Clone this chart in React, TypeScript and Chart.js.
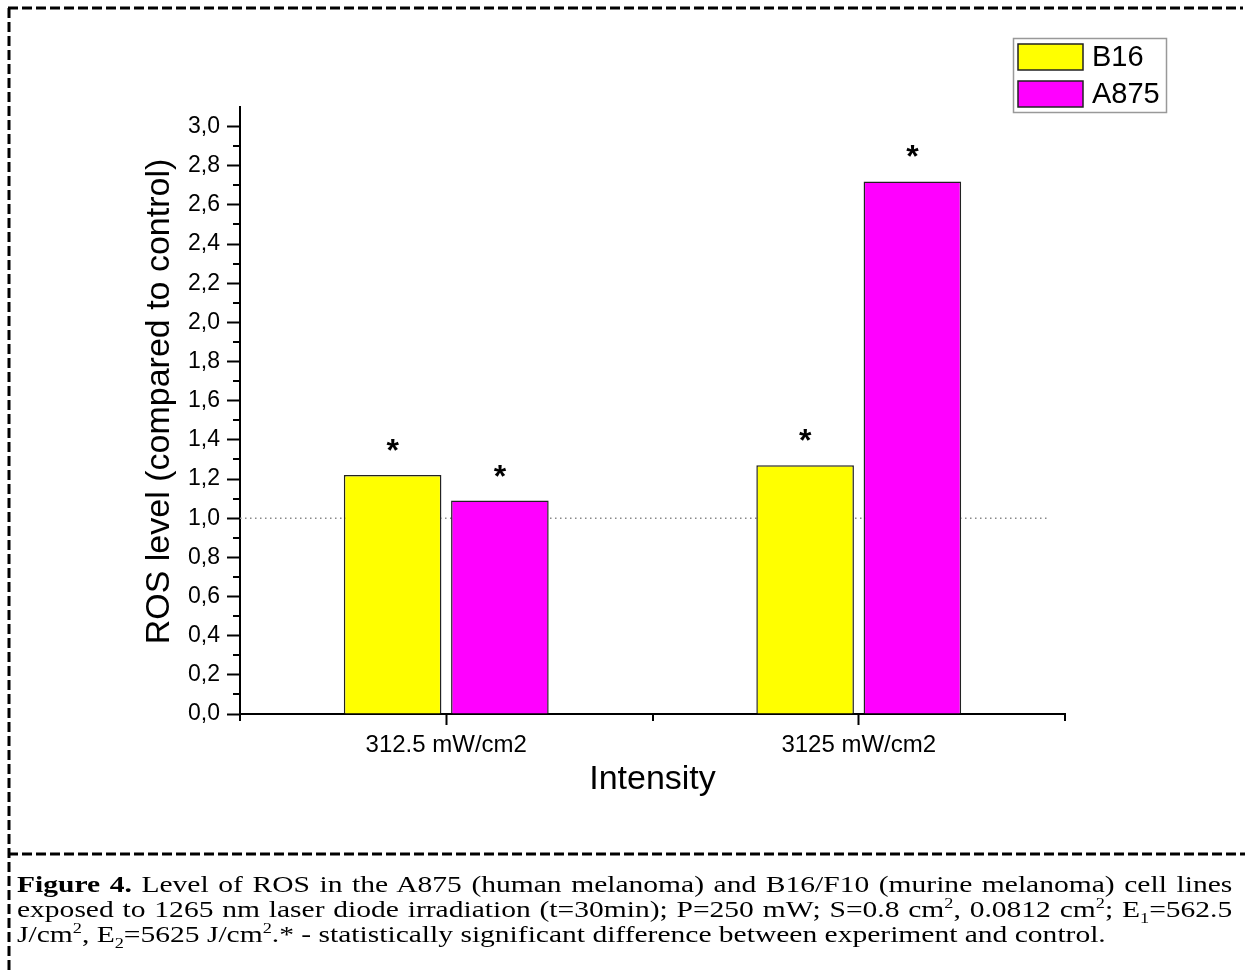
import React, { useEffect, useRef } from 'react';
import { Chart, registerables } from 'chart.js';

Chart.register(...registerables);

// ---- data ----
const categories = ['312.5 mW/cm2', '3125 mW/cm2'];
const seriesNames = ['B16', 'A875'];
const b16Values = [1.22, 1.27];
const a875Values = [1.09, 2.72];
const b16Significant = [true, true];
const a875Significant = [true, true];
const seriesColors = ['#FFFF00', '#FF00FF'];
const yTickValues = [0, 0.2, 0.4, 0.6, 0.8, 1.0, 1.2, 1.4, 1.6, 1.8, 2.0, 2.2, 2.4, 2.6, 2.8, 3.0];
const yMinorTickValues = [0.1, 0.3, 0.5, 0.7, 0.9, 1.1, 1.3, 1.5, 1.7, 1.9, 2.1, 2.3, 2.5, 2.7, 2.9];
const xMinorTickValues = [-0.5, 0.5, 1.5];
const controlLevel = 1.0;
const yMin = 0;
const yMax = 3.1;
const yAxisTitle = 'ROS level (compared to control)';
const xAxisTitle = 'Intensity';

const SANS = '"Liberation Sans", Arial, sans-serif';

const decorPlugin = {
  id: 'decor',
  beforeDraw(chart: any) {
    const ctx = chart.ctx;
    ctx.save();
    ctx.fillStyle = '#fff';
    ctx.fillRect(0, 0, chart.width, chart.height);
    // dashed frame
    ctx.strokeStyle = '#000';
    ctx.lineWidth = 3;
    ctx.setLineDash([10, 4]);
    ctx.beginPath();
    ctx.moveTo(8, 8);
    ctx.lineTo(1243, 8);
    ctx.moveTo(9, 8);
    ctx.lineTo(9, chart.height);
    ctx.moveTo(8, 854);
    ctx.lineTo(1245, 854);
    ctx.stroke();
    ctx.restore();
  },
  beforeDatasetsDraw(chart: any) {
    const ctx = chart.ctx;
    const { left, right } = chart.chartArea;
    const y = chart.scales.y;
    const yy = y.getPixelForValue(controlLevel);
    ctx.save();
    ctx.strokeStyle = '#888';
    ctx.lineWidth = 1.5;
    ctx.setLineDash([1.5, 3.5]);
    ctx.beginPath();
    ctx.moveTo(left, yy);
    ctx.lineTo(right - (right - left) * 0.022, yy);
    ctx.stroke();
    ctx.restore();
  },
  afterDraw(chart: any) {
    const ctx = chart.ctx;
    const { left, right, top, bottom } = chart.chartArea;
    const x = chart.scales.x;
    const y = chart.scales.y;
    ctx.save();
    ctx.strokeStyle = '#000';
    ctx.lineWidth = 2;
    // minor y ticks
    ctx.beginPath();
    yMinorTickValues.forEach((v) => {
      const py = Math.round(y.getPixelForValue(v));
      ctx.moveTo(left - 7, py);
      ctx.lineTo(left, py);
    });
    // minor x ticks
    xMinorTickValues.forEach((v) => {
      const px = Math.round(x.getPixelForValue(v));
      ctx.moveTo(px, bottom);
      ctx.lineTo(px, bottom + 7);
    });
    ctx.stroke();

    // asterisks
    ctx.fillStyle = '#000';
    ctx.font = `bold 32px ${SANS}`;
    ctx.textAlign = 'center';
    ctx.textBaseline = 'alphabetic';
    const flags = [b16Significant, a875Significant];
    chart.data.datasets.forEach((ds: any, di: number) => {
      const meta = chart.getDatasetMeta(di);
      meta.data.forEach((bar: any, i: number) => {
        if (flags[di][i]) ctx.fillText('*', bar.x, bar.y - 14);
      });
    });

    // axis titles
    ctx.font = `34px ${SANS}`;
    ctx.textBaseline = 'middle';
    ctx.textAlign = 'center';
    ctx.save();
    ctx.translate(160, (top + bottom) / 2 - 9);
    ctx.rotate(-Math.PI / 2);
    ctx.fillText(yAxisTitle, 0, 0);
    ctx.restore();
    ctx.font = `34px ${SANS}`;
    ctx.fillText(xAxisTitle, (left + right) / 2, 780);

    // legend
    ctx.strokeStyle = '#999';
    ctx.lineWidth = 1.5;
    ctx.strokeRect(1013.5, 38.5, 153, 74);
    ctx.font = `29px ${SANS}`;
    ctx.textAlign = 'left';
    chart.data.datasets.forEach((ds: any, di: number) => {
      const sy = 44 + di * 37;
      ctx.fillStyle = ds.backgroundColor;
      ctx.fillRect(1018, sy, 65, 26);
      ctx.strokeStyle = '#222';
      ctx.lineWidth = 1.5;
      ctx.strokeRect(1018, sy, 65, 26);
      ctx.fillStyle = '#000';
      ctx.fillText(ds.label, 1092, sy + 14);
    });
    ctx.restore();
  },
};

function ChartCanvas() {
  const ref = useRef<HTMLCanvasElement>(null);
  useEffect(() => {
    if (!ref.current) return;
    const chart = new Chart(ref.current, {
      type: 'bar',
      data: {
        labels: categories,
        datasets: [
          {
            label: seriesNames[0],
            data: b16Values,
            backgroundColor: seriesColors[0],
            borderColor: '#222',
            borderWidth: 1.5,
            categoryPercentage: 0.52,
            barPercentage: 0.91,
          },
          {
            label: seriesNames[1],
            data: a875Values,
            backgroundColor: seriesColors[1],
            borderColor: '#222',
            borderWidth: 1.5,
            categoryPercentage: 0.52,
            barPercentage: 0.91,
          },
        ],
      },
      options: {
        responsive: false,
        animation: false,
        devicePixelRatio: 1,
        layout: { padding: { top: 107, right: 180, bottom: 0, left: 0 } },
        plugins: {
          legend: { display: false },
          tooltip: { enabled: false },
          title: { display: false },
        },
        scales: {
          x: {
            type: 'category',
            offset: true,
            grid: {
              display: true,
              drawOnChartArea: false,
              drawTicks: true,
              tickLength: 11,
              tickWidth: 2,
              tickColor: '#000',
              offset: false,
            },
            border: { display: true, color: '#000', width: 2 },
            ticks: {
              color: '#000',
              font: { family: SANS, size: 24 },
              padding: 6,
              maxRotation: 0,
              autoSkip: false,
            },
            afterFit: (s: any) => {
              s.height = 258;
            },
          },
          y: {
            min: yMin,
            max: yMax,
            grid: {
              display: true,
              drawOnChartArea: false,
              drawTicks: true,
              tickLength: 13,
              tickWidth: 2,
              tickColor: '#000',
            },
            border: { display: true, color: '#000', width: 2 },
            ticks: {
              color: '#000',
              font: { family: SANS, size: 23 },
              padding: 7,
              callback: (v: any) => Number(v).toFixed(1).replace('.', ','),
            },
            afterBuildTicks: (s: any) => {
              s.ticks = yTickValues.map((v) => ({ value: v }));
            },
            afterFit: (s: any) => {
              s.width = 240;
            },
          },
        },
      },
      plugins: [decorPlugin],
    } as any);
    return () => chart.destroy();
  }, []);
  return (
    <canvas
      ref={ref}
      width={1245}
      height={972}
      style={{ position: 'absolute', left: 0, top: 0, width: 1245, height: 972 }}
    />
  );
}

const supStyle: React.CSSProperties = { fontSize: '0.62em', verticalAlign: 'super', lineHeight: 0 };
const subStyle: React.CSSProperties = { fontSize: '0.62em', verticalAlign: 'sub', lineHeight: 0 };
const SCALE_X = 1.23;

export default function App() {
  return (
    <div style={{ position: 'fixed', left: 0, top: 0, width: 1245, height: 972, background: '#fff', overflow: 'hidden' }}>
      <ChartCanvas />
      <div
        style={{
          position: 'absolute',
          left: 17,
          top: 872,
          width: Math.round(1215 / SCALE_X),
          transform: `scaleX(${SCALE_X})`,
          transformOrigin: 'left top',
          fontFamily: '"Liberation Serif", "Times New Roman", serif',
          fontSize: 24,
          lineHeight: '25px',
          color: '#000',
        }}
      >
        <div style={{ textAlign: 'justify', textAlignLast: 'justify', whiteSpace: 'nowrap' }}>
          <b>Figure 4.</b> Level of ROS in the A875 (human melanoma) and B16/F10 (murine melanoma) cell lines
        </div>
        <div style={{ textAlign: 'justify', textAlignLast: 'justify', whiteSpace: 'nowrap' }}>
          exposed to 1265 nm laser diode irradiation (t=30min); P=250 mW; S=0.8 cm<span style={supStyle}>2</span>, 0.0812 cm
          <span style={supStyle}>2</span>; E<span style={subStyle}>1</span>=562.5
        </div>
        <div style={{ whiteSpace: 'nowrap' }}>
          J/cm<span style={supStyle}>2</span>, E<span style={subStyle}>2</span>=5625 J/cm<span style={supStyle}>2</span>.* -
          statistically significant difference between experiment and control.
        </div>
      </div>
    </div>
  );
}
